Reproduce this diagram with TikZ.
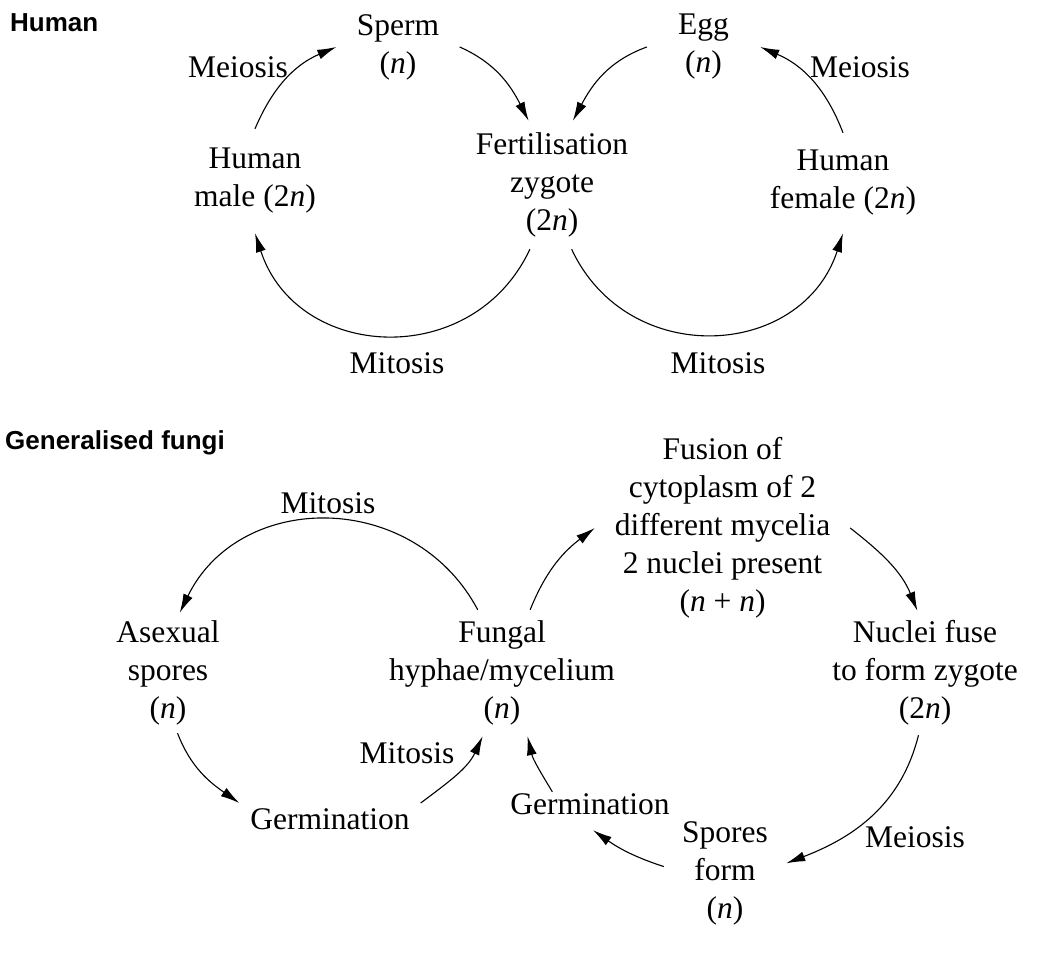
\documentclass[tikz,border=0pt]{standalone}
\usepackage{fontspec}
\setmainfont{Liberation Serif}
\setsansfont{Liberation Sans}
\usetikzlibrary{arrows.meta}

\begin{document}
\begin{tikzpicture}[
  x=1pt,y=1pt,
  stage/.style={font=\fontsize{31.5}{38}\selectfont,align=center,inner sep=0pt},
  proc/.style={font=\fontsize{31.5}{38}\selectfont,inner sep=0pt},
  head/.style={font=\sffamily\bfseries\fontsize{26}{30}\selectfont,anchor=west,inner sep=0pt},
  fl/.style={-{Latex[length=19pt,width=10pt]},line width=1.1pt}
]
\useasboundingbox (0,0) rectangle (1038,962);

\node[head] (hhead) at (10,939) {Human};
\node[stage,minimum width=123pt] (sperm) at (398,915) {Sperm\\(\textit{n})};
\node[stage,minimum width=113pt] (egg) at (703.5,915) {Egg\\(\textit{n})};
\node[stage,minimum height=104pt] (male) at (255,781) {Human\\male (2\textit{n})};
\node[stage,minimum height=128pt] (fert) at (552,777) {Fertilisation\\zygote\\(2\textit{n})};
\node[stage,minimum height=100pt] (female) at (843,779) {Human\\female (2\textit{n})};
\node[proc] (meil) at (238,895) {Meiosis};
\node[proc] (meir) at (860,895) {Meiosis};
\node[proc] (mitl) at (397,599) {Mitosis};
\node[proc] (mitr) at (718,599) {Mitosis};

\draw[fl] (male.north) to[out=67,in=203] (sperm.west);
\draw[fl] (sperm.east) to[out=336,in=117] (fert.110);
\draw[fl] (fert.251) to[out=245,in=288,looseness=1.25] (male.south);
\draw[fl] (egg.west) to[out=200,in=62] (fert.72);
\draw[fl] (female.north) to[out=111,in=337] (egg.east);
\draw[fl] (fert.287) to[out=295,in=252,looseness=1.25] (female.south);

\node[head] (fhead) at (5,519) {Generalised fungi};
\node[stage,minimum height=120pt] (asex) at (168,289) {Asexual\\spores\\(\textit{n})};
\node[stage,minimum height=126pt] (fungal) at (502,289) {Fungal\\hyphae/mycelium\\(\textit{n})};
\node[stage,minimum width=255pt] (fusion) at (722.5,434) {Fusion of\\cytoplasm of 2\\different mycelia\\2 nuclei present\\(\textit{n} + \textit{n})};
\node[stage,minimum height=124pt] (nuclei) at (925,289) {Nuclei fuse\\to form zygote\\(2\textit{n})};
\node[stage,minimum width=122pt] (spores) at (725,89) {Spores\\form\\(\textit{n})};
\node[stage,minimum width=181pt,minimum height=40pt] (germl) at (330,143) {Germination};
\node[stage,text height=22pt,text depth=16pt] (germr) at (590,151) {Germination};
\node[proc] (mitf) at (328,459) {Mitosis};
\node[proc] (mitg) at (407,209) {Mitosis};
\node[proc] (meif) at (915,125) {Meiosis};

\draw[fl] (fungal.111) to[out=118,in=64,looseness=1.17] (asex.79);
\draw[fl] (asex.279) to[out=291,in=145] (germl.170);
\draw[fl] (germl.10) to[out=37,in=245] (fungal.253);
\draw[fl] (fungal.66) to[out=68,in=217] (fusion.west);
\draw[fl] (fusion.east) to[out=322,in=112] (nuclei.97);
\draw[fl] (nuclei.264) to[out=256,in=21] (spores.9);
\draw[fl] (spores.174) to[out=162,in=325] (germr.279);
\draw[fl] (germr.153) to[out=121,in=283] (fungal.292);
\end{tikzpicture}
\end{document}
